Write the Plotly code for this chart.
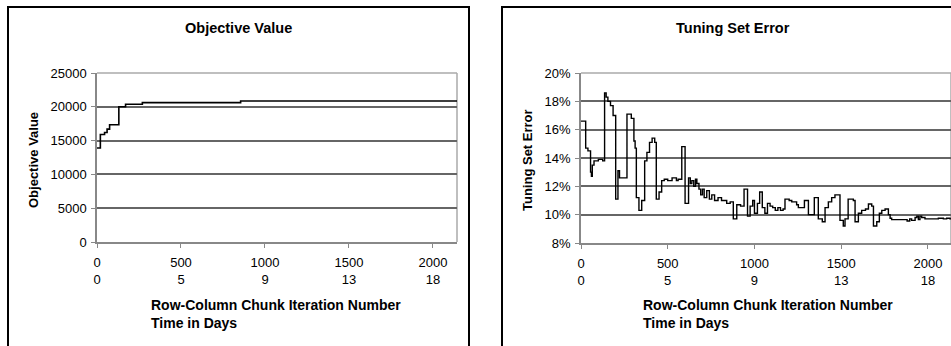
import plotly.graph_objects as go

# ---------------- data ----------------
iter_ticks = [0, 500, 1000, 1500, 2000]
day_ticks = [0, 5, 9, 13, 18]

obj_x = [0, 20, 45, 60, 75, 130, 170, 270, 855, 2145]
obj_y = [13900, 15900, 16200, 16700, 17350, 20000, 20380, 20620, 20850, 20850]

err_x = [0, 27, 40, 55, 60, 65, 75, 100, 125, 136, 145, 155, 170, 185, 200, 213, 222,
         265, 290, 305, 312, 319, 334, 350, 367, 380, 395, 410, 425, 434, 450, 465,
         480, 500, 525, 550, 560, 581, 600, 620, 630, 639, 650, 660, 668, 680, 690,
         700, 710, 725, 740, 754, 770, 790, 810, 840, 860, 878, 898, 920, 940, 960,
         975, 990, 1000, 1017, 1030, 1045, 1060, 1075, 1090, 1105, 1120, 1135, 1150,
         1165, 1176, 1200, 1215, 1243, 1253, 1288, 1311, 1345, 1368, 1391, 1407,
         1426, 1445, 1464, 1493, 1512, 1522, 1540, 1570, 1580, 1599, 1618, 1640,
         1657, 1676, 1686, 1705, 1720, 1734, 1753, 1772, 1782, 1791, 1880, 1895,
         1906, 1926, 1936, 1945, 1954, 1964, 1983, 2060, 2089, 2108, 2127, 2145]
err_y = [16.6, 14.7, 14.5, 13.0, 12.7, 13.5, 13.8, 13.9, 13.8, 18.6, 18.3, 18.0, 17.7,
         17.0, 11.1, 13.1, 12.6, 17.1, 16.8, 15.2, 14.7, 11.2, 10.3, 11.0, 13.8, 14.4,
         15.1, 15.4, 15.1, 11.1, 11.6, 12.4, 12.5, 12.4, 12.6, 12.4, 12.5, 14.8, 10.8,
         12.6, 12.2, 12.4, 12.0, 12.5, 12.2, 11.8, 11.4, 11.8, 11.2, 11.7, 11.1, 11.4,
         11.0, 11.2, 11.0, 10.8, 10.9, 9.7, 10.7, 10.6, 11.8, 9.9, 10.6, 11.0, 10.1,
         10.8, 11.6, 10.5, 10.1, 10.8, 10.6, 10.5, 10.3, 10.5, 10.3, 10.4, 11.1, 11.0,
         10.9, 10.7, 10.5, 11.0, 10.0, 11.2, 9.7, 9.5, 10.5, 10.9, 11.2, 11.4, 9.6,
         9.2, 9.7, 11.1, 11.0, 9.5, 10.1, 10.3, 10.4, 10.75, 10.6, 9.2, 9.5, 10.1,
         10.3, 10.4, 10.0, 9.75, 9.65, 9.55, 9.7, 9.6, 9.8, 9.9, 9.65, 9.9, 9.8, 9.7,
         9.75, 9.7, 9.75, 9.7, 9.7]

obj_yticks = [0, 5000, 10000, 15000, 20000, 25000]
err_yticks = [8, 10, 12, 14, 16, 18, 20]

titles = ["Objective Value", "Tuning Set Error"]
ytitles = ["Objective Value", "Tuning Set Error"]
xtitle = "Row-Column Chunk Iteration Number<br>Time in Days"

# ---------------- figure ----------------
W, H = 951, 346
FONT = "Arial, Liberation Sans, Helvetica, sans-serif"

def px(x):
    return x / W

def py(y):
    return 1 - y / H

fig = go.Figure()
fig.add_trace(go.Scatter(x=obj_x, y=obj_y, mode="lines", line=dict(color="black", width=1.6, shape="hv"),
                         xaxis="x", yaxis="y", showlegend=False, hoverinfo="skip"))
fig.add_trace(go.Scatter(x=err_x, y=[v / 100 for v in err_y], mode="lines",
                         line=dict(color="black", width=1.4, shape="hv"),
                         xaxis="x2", yaxis="y2", showlegend=False, hoverinfo="skip"))

tick_text = [f"{a}<br>{b}" for a, b in zip(iter_ticks, day_ticks)]
common_x = dict(tickvals=iter_ticks, ticktext=tick_text, showgrid=False, zeroline=False,
                showline=True, linecolor="#888", linewidth=1.5, ticks="outside", ticklen=4,
                tickcolor="#888", tickfont=dict(size=13, color="black", family=FONT),
                ticklabelstandoff=4, automargin=False)
common_y = dict(showgrid=True, gridcolor="#666", gridwidth=1.5, zeroline=False,
                showline=True, linecolor="#888", linewidth=1.5, ticks="outside", ticklen=4,
                tickcolor="#888", tickfont=dict(size=13, color="black", family=FONT),
                ticklabelstandoff=2, automargin=False)

fig.update_layout(
    template="none",
    width=W, height=H, margin=dict(l=0, r=0, t=0, b=0, autoexpand=False),
    paper_bgcolor="white", plot_bgcolor="white",
    font=dict(family=FONT, color="black"),
    xaxis=dict(domain=[px(97), px(457)], range=[0, 2143], anchor="y", **common_x),
    yaxis=dict(domain=[py(242), py(73)], range=[0, 25000], anchor="x",
               tickvals=obj_yticks, ticktext=[str(v) for v in obj_yticks], **common_y),
    xaxis2=dict(domain=[px(581), 1.0], range=[0, 2133], anchor="y2", **common_x),
    yaxis2=dict(domain=[py(243), py(73)], range=[0.08, 0.20], anchor="x2",
                tickvals=[v / 100 for v in err_yticks], tickformat=".0%", **common_y),
)

shapes = []
# panel frames
shapes.append(dict(type="rect", xref="paper", yref="paper", x0=px(8), x1=px(469), y0=-0.2, y1=py(7),
                   line=dict(color="black", width=2), fillcolor="rgba(0,0,0,0)", layer="above"))
shapes.append(dict(type="rect", xref="paper", yref="paper", x0=px(502), x1=1.2, y0=-0.2, y1=py(7),
                   line=dict(color="black", width=2), fillcolor="rgba(0,0,0,0)", layer="above"))
# light plot-area borders (top / right)
for xa, ya in (("x", "y"), ("x2", "y2")):
    shapes.append(dict(type="line", xref=f"{xa} domain", yref=f"{ya} domain", x0=0, x1=1, y0=1, y1=1,
                       line=dict(color="#aaa", width=1.5), layer="below"))
    shapes.append(dict(type="line", xref=f"{xa} domain", yref=f"{ya} domain", x0=1, x1=1, y0=0, y1=1,
                       line=dict(color="#aaa", width=1.5), layer="below"))
fig.update_layout(shapes=shapes)

def note(text, x, y, size, xanchor="center", angle=0):
    return dict(text=text, x=px(x), y=py(y), xref="paper", yref="paper",
                xanchor=xanchor, yanchor="middle", align="left", textangle=angle,
                showarrow=False, font=dict(size=size, family=FONT, color="black"))

ann = [
    note(f"<b>{titles[0]}</b>", 238, 28, 14.5),
    note(f"<b>{titles[1]}</b>", 733, 28, 14.5),
    note(f"<b>{ytitles[0]}</b>", 33, 160, 13, angle=-90),
    note(f"<b>{ytitles[1]}</b>", 527, 160, 13, angle=-90),
    note(f"<b>{xtitle}</b>", 149, 314, 14, xanchor="left"),
    note(f"<b>{xtitle}</b>", 641, 314, 14, xanchor="left"),
]
fig.update_layout(annotations=ann)

fig.write_html("out.html", config={"displayModeBar": False},
               post_script="document.body.style.margin='0px';")
